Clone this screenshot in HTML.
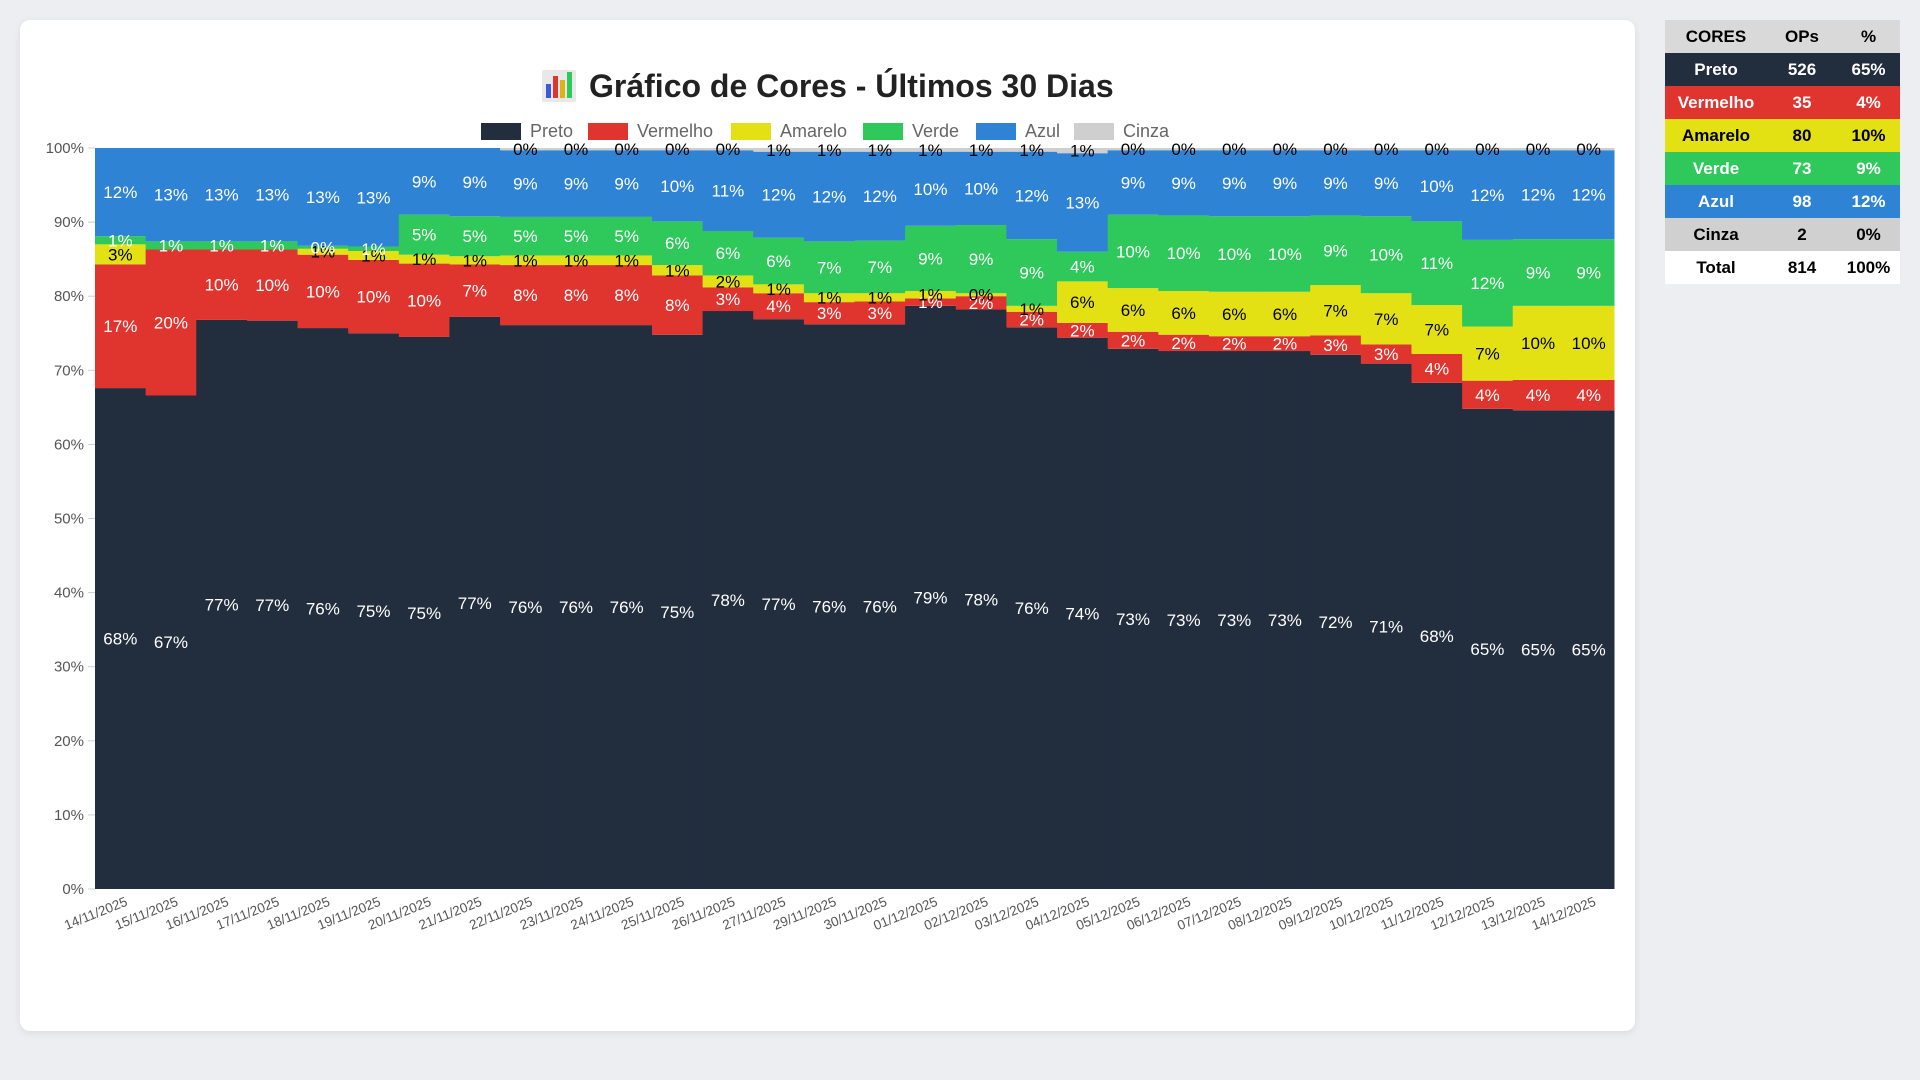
<!DOCTYPE html>
<html><head><meta charset="utf-8">
<style>
html,body{margin:0;padding:0;background:#eceef2;width:1920px;height:1080px;overflow:hidden;font-family:"Liberation Sans",sans-serif}
#card{position:absolute;left:20px;top:20px;width:1615px;height:1011px;background:#fff;border-radius:10px;box-shadow:0 2px 8px rgba(0,0,0,0.08)}
#tbl{position:absolute;left:1665px;top:20px;border-collapse:collapse;font-weight:bold;font-size:17px;text-align:center}
#tbl td{height:33px;padding:0}
</style></head><body>
<div id="card"></div>
<svg id="chart" width="1640" height="1040" style="position:absolute;left:0;top:0"></svg>
<table id="tbl">
<tr style="background:#d9d9d9;color:#000"><td style="width:102px">CORES</td><td style="width:70px">OPs</td><td style="width:63px">%</td></tr>
<tr style="background:#222d3e;color:#fff"><td>Preto</td><td>526</td><td>65%</td></tr>
<tr style="background:#e0342f;color:#fff"><td>Vermelho</td><td>35</td><td>4%</td></tr>
<tr style="background:#e3e014;color:#000"><td>Amarelo</td><td>80</td><td>10%</td></tr>
<tr style="background:#2ec95a;color:#fff"><td>Verde</td><td>73</td><td>9%</td></tr>
<tr style="background:#2f83d4;color:#fff"><td>Azul</td><td>98</td><td>12%</td></tr>
<tr style="background:#d0d0d0;color:#000"><td>Cinza</td><td>2</td><td>0%</td></tr>
<tr style="background:#fff;color:#000"><td>Total</td><td>814</td><td>100%</td></tr>
</table>
<script>
const dates=["14/11/2025","15/11/2025","16/11/2025","17/11/2025","18/11/2025","19/11/2025","20/11/2025","21/11/2025","22/11/2025","23/11/2025","24/11/2025","25/11/2025","26/11/2025","27/11/2025","29/11/2025","30/11/2025","01/12/2025","02/12/2025","03/12/2025","04/12/2025","05/12/2025","06/12/2025","07/12/2025","08/12/2025","09/12/2025","10/12/2025","11/12/2025","12/12/2025","13/12/2025","14/12/2025"];
const preto=[67.6,66.6,76.8,76.7,75.7,75.0,74.5,77.2,76.1,76.1,76.1,74.8,78.0,76.9,76.2,76.2,78.7,78.2,75.8,74.4,72.9,72.6,72.6,72.6,72.1,70.9,68.3,64.8,64.6,64.6];
const vermelho=[16.7,19.7,9.5,9.6,9.9,9.9,9.9,7.1,8.1,8.1,8.1,8.0,3.2,3.5,3.0,3.1,1.0,1.8,2.1,2.0,2.3,2.2,2.0,2.0,2.6,2.6,3.9,3.8,4.1,4.1];
const amarelo=[2.7,0,0,0,0.8,1.2,1.2,1.1,1.3,1.3,1.3,1.4,1.6,1.2,1.2,1.1,1.0,0.4,0.8,5.6,5.9,5.9,6.0,6.0,6.8,6.9,6.6,7.3,10.0,10.0];
const verde=[1.1,1.1,1.1,1.1,0.4,0.6,5.4,5.4,5.2,5.2,5.2,5.9,6.0,6.3,7.0,7.1,8.8,9.2,9.0,4.0,9.9,10.2,10.2,10.2,9.4,10.4,11.3,11.7,9.0,9.0];
const azul=[11.9,12.6,12.6,12.6,13.2,13.3,9.0,9.2,9.0,9.0,9.0,9.6,10.9,11.6,12.1,12.0,10.0,9.9,11.8,13.3,8.7,8.8,8.9,8.9,8.8,8.9,9.6,12.1,12.0,12.0];
const cinza=[0,0,0,0,0,0,0,0,0.3,0.3,0.3,0.3,0.3,0.5,0.5,0.5,0.5,0.5,0.5,0.7,0.3,0.3,0.3,0.3,0.3,0.3,0.3,0.3,0.3,0.3];
const seriesNames=["Preto","Vermelho","Amarelo","Verde","Azul","Cinza"];
const yTicks=[0,10,20,30,40,50,60,70,80,90,100];

const NS="http://www.w3.org/2000/svg";
const svg=document.getElementById('chart');
const colors=["#222d3e","#e0342f","#e3e014","#2ec95a","#2f83d4","#cfcfcf"];
const txtCol=["#fff","#fff","#000","#fff","#fff","#000"];
const X0=95,X1=1614,Y0=889,Y1=148;
const bw=(X1-X0)/dates.length;
const xs=i=>X0+i*bw;
const ys=v=>Y0-(v/100)*(Y0-Y1);
function mk(tag,attrs,parent){const e=document.createElementNS(NS,tag);for(const k in attrs)e.setAttribute(k,attrs[k]);(parent||svg).appendChild(e);return e;}

const title=mk('g',{});


mk('rect',{x:542,y:70,width:34,height:32,fill:'#e8e8e8',rx:2},title);
[['#3b5bd6',14],['#e0342f',22],['#e3b014',18],['#2ec95a',26]].forEach((c,i)=>mk('rect',{x:546+i*7,y:98-c[1],width:5,height:c[1],fill:c[0]},title));
const tt=mk('text',{x:589,y:97,'font-size':32,'font-weight':'bold',fill:'#222'},title);
tt.textContent="Gráfico de Cores - Últimos 30 Dias";

const legX=[481,588,731,863,976,1074];
seriesNames.forEach((n,k)=>{
  const g=mk('g',{});
  
  
  mk('rect',{x:legX[k],y:123,width:40,height:17,fill:colors[k]},g);
  const t=mk('text',{x:legX[k]+49,y:137,'font-size':18,fill:'#666'},g);t.textContent=n;
});

yTicks.forEach(v=>{
  const t=mk('text',{x:84,y:ys(v)+5,'text-anchor':'end','font-size':15,fill:'#555'});
  
  
  t.textContent=v+'%';
  mk('line',{x1:88,x2:95,y1:ys(v),y2:ys(v),stroke:'#ccc'});
});

const data=[preto,vermelho,amarelo,verde,azul,cinza];
const labels=[];
dates.forEach((d,i)=>{
  let base=0;
  data.forEach((s,k)=>{
    const v=s[i];
    if(v<=0)return;
    const r=mk('rect',{x:xs(i),y:ys(base+v),width:bw+0.5,height:ys(base)-ys(base+v),fill:colors[k]});
    
    
    labels.push([xs(i)+bw/2,ys(base+v/2)+6,Math.round(v)+'%',txtCol[k]]);
    base+=v;
  });
  const t=mk('text',{transform:`translate(${xs(i)+bw/2+8},${Y0+16}) rotate(-22)`,'text-anchor':'end','font-size':13.5,fill:'#555'});
  
  
  t.textContent=d;
});
labels.forEach(l=>{
  const t=mk('text',{x:l[0],y:l[1],'text-anchor':'middle','font-size':17,fill:l[3]});
  
  
  t.textContent=l[2];
});
</script>
</body></html>
